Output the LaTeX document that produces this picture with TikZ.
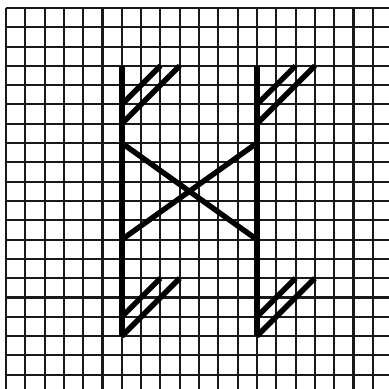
\documentclass[tikz,border=0pt]{standalone}
\usetikzlibrary{calc}

\begin{document}
\begin{tikzpicture}[
  % --- squared paper and the heavy strokes
  paper/.style={line width=3pt, black!90},
  stroke/.style={line width=8.6pt, black},
  flag/.style={line width=8pt, black},
]

\useasboundingbox (-0.31,0.41) rectangle (19.83,-19.74);

%========================
% Squared paper
%========================
\draw[paper] (0,-19.74) grid (19.83,0);

%========================
% The two stems, each with two flags at top and bottom
%========================
\foreach \s/\x in {L/6, R/13}{
  \coordinate (top\s) at (\x,-3);
  \coordinate (bot\s) at (\x,-17);
  \draw[stroke] (top\s) -- (bot\s);
  % upper flags
  \draw[flag] ($(top\s)+(0,-2)$) -- ($(top\s)+(2,0)$);
  \draw[flag] ($(top\s)+(0,-3)$) -- ($(top\s)+(3,0)$);
  % lower flags
  \draw[flag] ($(bot\s)+(0,1)$) -- ($(bot\s)+(2,3)$);
  \draw[flag] (bot\s) -- ($(bot\s)+(3,3)$);
}

%========================
% Crossing between the stems
%========================
\coordinate (crossTL) at (6,-7);
\coordinate (crossTR) at (13,-7);
\coordinate (crossBL) at (6,-12);
\coordinate (crossBR) at (13,-12);
\draw[flag] (crossTL) -- (crossBR);
\draw[flag] (crossTR) -- (crossBL);

\end{tikzpicture}
\end{document}
